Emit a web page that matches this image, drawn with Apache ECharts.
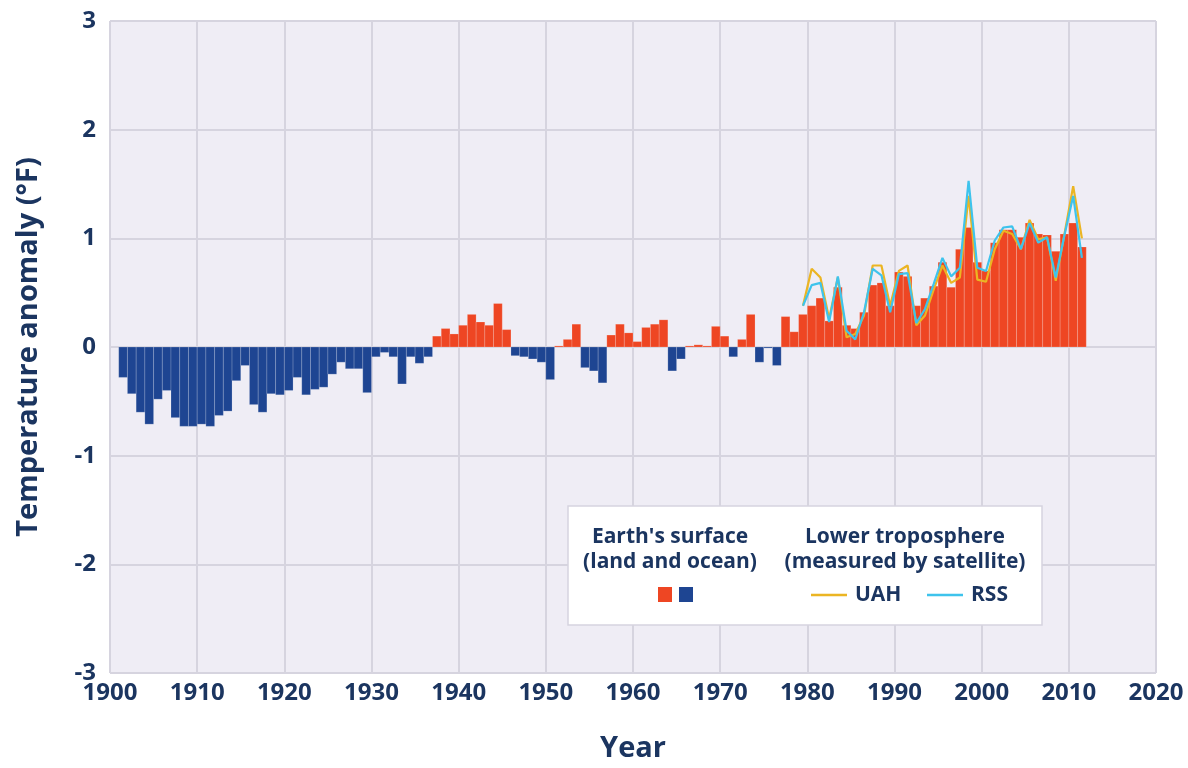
<!DOCTYPE html>
<html>
<head>
<meta charset="utf-8">
<script src="https://cdn.jsdelivr.net/npm/echarts@6/dist/echarts.min.js"></script>
<style>
html,body{margin:0;padding:0;background:#fff;}
#chart{width:1188px;height:768px;}
</style>
</head>
<body>
<div id="chart"></div>
<script>
// Earth's surface (land and ocean) annual anomalies, °F
const surfaceYears = [];
for (let y = 1901; y <= 2011; y++) surfaceYears.push(y);
const surfaceValues = [
  -0.28,-0.43,-0.60,-0.71,-0.48,-0.40,-0.65,-0.73,-0.73,-0.71,
  -0.73,-0.63,-0.59,-0.31,-0.17,-0.53,-0.60,-0.43,-0.44,-0.40,
  -0.28,-0.44,-0.39,-0.37,-0.25,-0.14,-0.20,-0.20,-0.42,-0.09,
  -0.05,-0.09,-0.34,-0.09,-0.15,-0.09, 0.10, 0.17, 0.12, 0.20,
   0.30, 0.23, 0.20, 0.40, 0.16,-0.08,-0.09,-0.11,-0.14,-0.30,
   0.01, 0.07, 0.21,-0.19,-0.22,-0.33, 0.11, 0.21, 0.13, 0.05,
   0.18, 0.21, 0.25,-0.22,-0.11, 0.01, 0.02, 0.01, 0.19, 0.10,
  -0.09, 0.07, 0.30,-0.14,-0.01,-0.17, 0.28, 0.14, 0.30, 0.38,
   0.45, 0.24, 0.55, 0.20, 0.17, 0.32, 0.57, 0.59, 0.38, 0.69,
   0.65, 0.38, 0.45, 0.56, 0.78, 0.55, 0.90, 1.10, 0.78, 0.70,
   0.96, 1.08, 1.08, 1.01, 1.14, 1.04, 1.03, 0.88, 1.04, 1.14,
   0.92
];
// Lower troposphere (satellite), °F
const satYears = [];
for (let y = 1979; y <= 2011; y++) satYears.push(y);
const uahValues = [
  0.38,0.72,0.64,0.26,0.64,0.09,0.12,0.29,0.75,0.75,
  0.38,0.70,0.75,0.20,0.29,0.53,0.75,0.59,0.64,1.39,
  0.62,0.60,0.90,1.07,1.04,0.90,1.17,0.99,1.01,0.61,
  1.04,1.48,1.00
];
const rssValues = [
  0.38,0.57,0.59,0.23,0.65,0.15,0.07,0.32,0.72,0.66,
  0.32,0.67,0.68,0.22,0.35,0.58,0.82,0.65,0.73,1.53,
  0.73,0.70,0.98,1.10,1.11,0.90,1.14,0.96,1.01,0.64,
  1.03,1.39,0.82
];
const xTicks = [1900,1910,1920,1930,1940,1950,1960,1970,1980,1990,2000,2010,2020];
const yTicks = [-3,-2,-1,0,1,2,3];

const RED = '#EE4623';
const BLUE = '#1E4592';
const UAH = '#EBB523';
const RSS = '#3EC3EC';
const NAVY = '#1B3560';
const FONT = '"Open Sans", "Noto Sans", sans-serif';

const chart = echarts.init(document.getElementById('chart'));
const barData = surfaceYears.map((y, i) => [y, surfaceValues[i]]);
const uahData = satYears.map((y, i) => [y + 0.5, uahValues[i]]);
const rssData = satYears.map((y, i) => [y + 0.5, rssValues[i]]);

chart.setOption({
  backgroundColor: '#ffffff',
  animation: false,
  grid: { left: 110, top: 21, right: 32, bottom: 93, show: true, backgroundColor: '#EFEDF5', borderColor: '#D6D4DF', borderWidth: 1 },
  xAxis: {
    type: 'value', min: xTicks[0], max: xTicks[xTicks.length - 1], interval: 10,
    name: 'Year', nameLocation: 'middle', nameGap: 61,
    nameTextStyle: { color: NAVY, fontSize: 29, fontWeight: 'bold', fontFamily: FONT },
    axisLine: { show: false },
    axisTick: { show: true, length: 7, lineStyle: { color: '#D6D4DF', width: 2 } },
    axisLabel: { color: NAVY, fontSize: 24, fontWeight: 'bold', fontFamily: FONT, margin: 8, formatter: v => String(v) },
    splitLine: { show: true, lineStyle: { color: '#D6D4DF', width: 2 } }
  },
  yAxis: {
    type: 'value', min: yTicks[0], max: yTicks[yTicks.length - 1], interval: 1,
    name: 'Temperature anomaly (°F)', nameLocation: 'middle', nameGap: 67, nameRotate: 90,
    nameTextStyle: { color: NAVY, fontSize: 29, fontWeight: 'bold', fontFamily: FONT },
    axisLine: { show: false }, axisTick: { show: false },
    axisLabel: { color: NAVY, fontSize: 24, fontWeight: 'bold', fontFamily: FONT, margin: 14 },
    splitLine: { show: true, lineStyle: { color: '#D6D4DF', width: 2 } }
  },
  series: [
    {
      type: 'custom', data: barData, z: 3,
      renderItem: function (params, api) {
        const yr = api.value(0), v = api.value(1);
        const p0 = api.coord([yr, 0]);
        const p1 = api.coord([yr + 1, v]);
        return {
          type: 'rect',
          shape: { x: p0[0], y: Math.min(p0[1], p1[1]), width: p1[0] - p0[0], height: Math.abs(p1[1] - p0[1]) },
          style: { fill: v >= 0 ? RED : BLUE, stroke: 'rgba(255,255,255,0.22)', lineWidth: 0.8 }
        };
      }
    },
    { type: 'line', data: uahData, z: 4, symbol: 'none', lineStyle: { color: UAH, width: 2.2 } },
    { type: 'line', data: rssData, z: 5, symbol: 'none', lineStyle: { color: RSS, width: 2.2 } }
  ],
  graphic: [
    { type: 'rect', z: 10, shape: { x: 568, y: 506, width: 474, height: 119 }, style: { fill: '#ffffff', stroke: '#D6D4DF', lineWidth: 1.5 } },
    { type: 'text', z: 11, x: 670, y: 537, style: { text: "Earth's surface", fill: NAVY, font: 'bold 21px ' + FONT, align: 'center', verticalAlign: 'middle' } },
    { type: 'text', z: 11, x: 670, y: 562, style: { text: '(land and ocean)', fill: NAVY, font: 'bold 21px ' + FONT, align: 'center', verticalAlign: 'middle' } },
    { type: 'rect', z: 11, shape: { x: 658, y: 587, width: 14, height: 15 }, style: { fill: RED } },
    { type: 'rect', z: 11, shape: { x: 679, y: 587, width: 14, height: 15 }, style: { fill: BLUE } },
    { type: 'text', z: 11, x: 905, y: 537, style: { text: 'Lower troposphere', fill: NAVY, font: 'bold 21px ' + FONT, align: 'center', verticalAlign: 'middle' } },
    { type: 'text', z: 11, x: 905, y: 562, style: { text: '(measured by satellite)', fill: NAVY, font: 'bold 21px ' + FONT, align: 'center', verticalAlign: 'middle' } },
    { type: 'line', z: 11, shape: { x1: 811, y1: 595, x2: 847, y2: 595 }, style: { stroke: UAH, lineWidth: 2.5 } },
    { type: 'text', z: 11, x: 855, y: 595, style: { text: 'UAH', fill: NAVY, font: 'bold 21px ' + FONT, align: 'left', verticalAlign: 'middle' } },
    { type: 'line', z: 11, shape: { x1: 927, y1: 595, x2: 963, y2: 595 }, style: { stroke: RSS, lineWidth: 2.5 } },
    { type: 'text', z: 11, x: 971, y: 595, style: { text: 'RSS', fill: NAVY, font: 'bold 21px ' + FONT, align: 'left', verticalAlign: 'middle' } }
  ]
});
</script>
</body>
</html>
